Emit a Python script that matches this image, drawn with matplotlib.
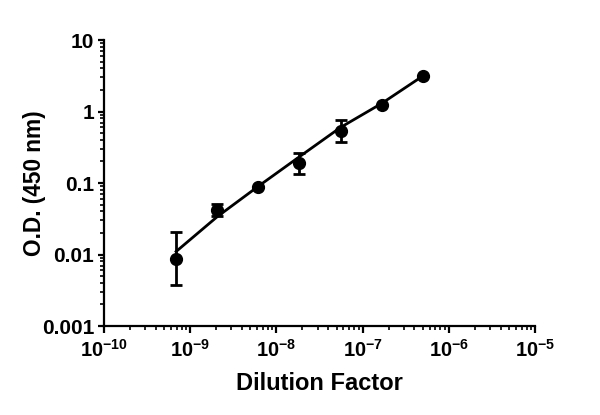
import matplotlib
matplotlib.use("Agg")
import matplotlib.pyplot as plt
import numpy as np
from matplotlib.ticker import FixedLocator, LogLocator, FixedFormatter

plt.rcParams['font.family'] = ['Liberation Sans', 'DejaVu Sans']
plt.rcParams['font.weight'] = 'bold'
plt.rcParams['mathtext.fontset'] = 'custom'
plt.rcParams['mathtext.rm'] = 'Liberation Sans:bold'
plt.rcParams['mathtext.it'] = 'Liberation Sans:bold'
plt.rcParams['mathtext.bf'] = 'Liberation Sans:bold'
plt.rcParams['mathtext.default'] = 'rm'

# data
dilution = [6.86e-10, 2.06e-9, 6.17e-9, 1.85e-8, 5.56e-8, 1.67e-7, 5.0e-7]
od = [0.0086, 0.042, 0.089, 0.188, 0.54, 1.24, 3.14]
err_low = [0.0049, 0.0075, 0.0, 0.053, 0.16, 0.0, 0.0]
err_high = [0.0118, 0.0083, 0.0, 0.077, 0.22, 0.0, 0.0]

# fitted curve
curve_x = [6.86e-10, 2.06e-9, 6.17e-9, 1.85e-8, 5.56e-8, 1.67e-7, 5.0e-7]
curve_y = [0.0110, 0.0338, 0.0900, 0.233, 0.600, 1.30, 3.14]

xticks = [1e-10, 1e-9, 1e-8, 1e-7, 1e-6, 1e-5]
xticklabels = [r'$10^{-10}$', r'$10^{-9}$', r'$10^{-8}$', r'$10^{-7}$', r'$10^{-6}$', r'$10^{-5}$']
yticks = [0.001, 0.01, 0.1, 1, 10]
yticklabels = ['0.001', '0.01', '0.1', '1', '10']

fig = plt.figure(figsize=(6, 4.15), dpi=100)
ax = fig.add_axes([104/600, 89/415, (535-104)/600, (326-40)/415])
ax.set_xscale('log')
ax.set_yscale('log')

ax.plot(curve_x, curve_y, color='black', lw=2, zorder=2)
ax.errorbar(dilution, od, yerr=[err_low, err_high], fmt='o', color='black',
            ms=8.5, elinewidth=2, capsize=4, capthick=2, zorder=3)

ax.set_xlim(1e-10, 1e-5)
ax.set_ylim(0.001, 10)
ax.xaxis.set_major_locator(FixedLocator(xticks))
ax.xaxis.set_major_formatter(FixedFormatter(xticklabels))
ax.yaxis.set_major_locator(FixedLocator(yticks))
ax.yaxis.set_major_formatter(FixedFormatter(yticklabels))
ax.xaxis.set_minor_locator(LogLocator(base=10, subs=np.arange(2, 10), numticks=20))
ax.yaxis.set_minor_locator(LogLocator(base=10, subs=np.arange(2, 10), numticks=20))
ax.xaxis.set_minor_formatter(plt.NullFormatter())
ax.yaxis.set_minor_formatter(plt.NullFormatter())

for s in ['top', 'right']:
    ax.spines[s].set_visible(False)
for s in ['left', 'bottom']:
    ax.spines[s].set_linewidth(1.6)

ax.tick_params(axis='y', which='major', direction='out', length=4, width=1.6, labelsize=15, pad=3)
ax.tick_params(axis='x', which='major', direction='out', length=5, width=1.6, labelsize=14.5, pad=4)
ax.tick_params(which='minor', direction='out', length=3, width=1.2)

ax.set_xlabel('Dilution Factor', fontsize=17, fontweight='bold', labelpad=8)
ax.set_ylabel('O.D. (450 nm)', fontsize=16.3, fontweight='bold', labelpad=-3)

fig.savefig('out.png', dpi=100)
